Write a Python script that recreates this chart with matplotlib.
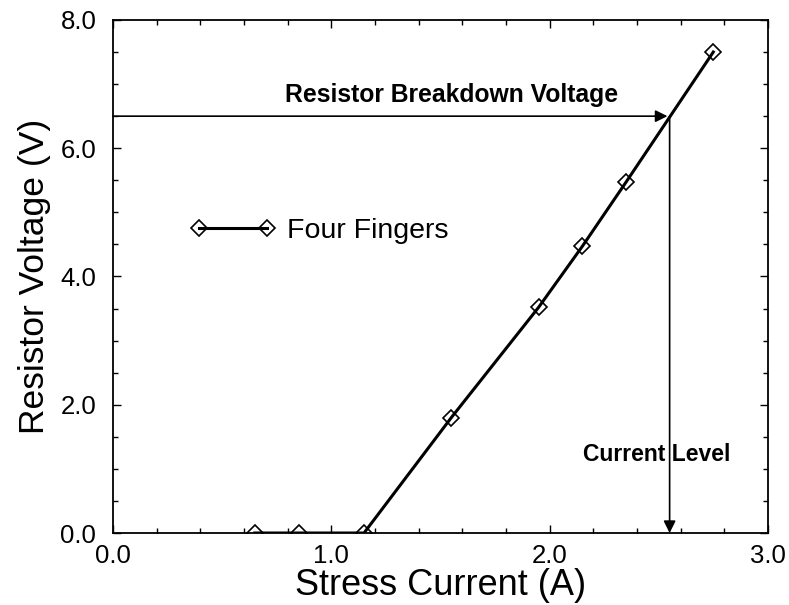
import matplotlib
matplotlib.use('Agg')
import matplotlib.pyplot as plt
from matplotlib.ticker import MultipleLocator, FormatStrFormatter

# Stress current (A) and resistor voltage (V), four-finger device
current = [0.65, 0.85, 1.15, 1.55, 1.95, 2.15, 2.35, 2.75]
voltage = [0.0, 0.0, 0.0, 1.8, 3.52, 4.47, 5.47, 7.5]

breakdown_v = 6.5
breakdown_i = 2.55

plt.rcParams['font.family'] = ['Liberation Sans', 'DejaVu Sans']

fig = plt.figure(figsize=(7.89, 6.05), dpi=100)
ax = fig.add_axes([0.1432, 0.119, 0.830, 0.848])

ax.plot(current, voltage, color='black', lw=2.2, marker='D', markersize=8,
        markerfacecolor='none', markeredgecolor='black', markeredgewidth=1.2,
        label='Four Fingers')

# breakdown voltage arrow from the y axis to the curve
ax.annotate('', xy=(breakdown_i - 0.01, breakdown_v), xytext=(0.0, breakdown_v),
            arrowprops=dict(arrowstyle='-|>', color='black', lw=1.2,
                            mutation_scale=18, shrinkA=0, shrinkB=0))
# current level arrow down to the x axis
ax.annotate('', xy=(breakdown_i, 0.0), xytext=(breakdown_i, breakdown_v),
            arrowprops=dict(arrowstyle='-|>', color='black', lw=1.2,
                            mutation_scale=18, shrinkA=0, shrinkB=0))

ax.text(1.55, 6.83, 'Resistor Breakdown Voltage', ha='center', va='center',
        fontsize=17.8, fontweight='bold')
ax.text(2.49, 1.22, 'Current Level', ha='center', va='center',
        fontsize=16.5, fontweight='bold')

ax.legend(loc='center left', bbox_to_anchor=(0.118, 0.589), frameon=False,
          numpoints=2, handlelength=3.0, handletextpad=0.4, borderpad=0,
          borderaxespad=0, fontsize=20.5)

ax.set_xlim(0, 3.0)
ax.set_ylim(0, 8.0)
ax.xaxis.set_major_locator(MultipleLocator(1.0))
ax.xaxis.set_minor_locator(MultipleLocator(0.2))
ax.yaxis.set_major_locator(MultipleLocator(2.0))
ax.yaxis.set_minor_locator(MultipleLocator(0.5))
ax.xaxis.set_major_formatter(FormatStrFormatter('%.1f'))
ax.yaxis.set_major_formatter(FormatStrFormatter('%.1f'))

ax.tick_params(which='both', direction='in', top=True, right=True, width=1.0)
ax.tick_params(which='major', length=6, labelsize=18.5)
ax.tick_params(axis='x', which='major', pad=8)
ax.tick_params(axis='y', which='major', pad=12)
ax.tick_params(which='minor', length=3.5)
for s in ax.spines.values():
    s.set_linewidth(1.3)

ax.set_xlabel('Stress Current (A)', fontsize=26, labelpad=0)
ax.set_ylabel('Resistor Voltage (V)', fontsize=25.5, labelpad=7)

fig.savefig('out.png', dpi=100)
